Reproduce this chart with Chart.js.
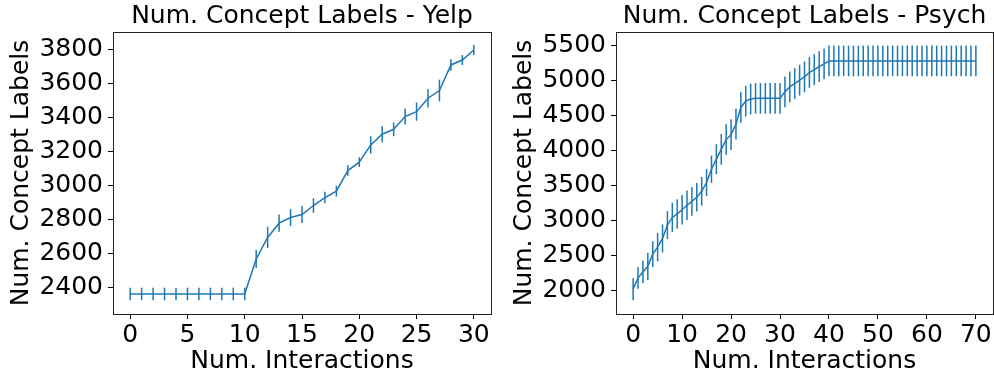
<!DOCTYPE html>
<html>
<head>
<meta charset="utf-8">
<script src="https://cdn.jsdelivr.net/npm/chart.js@4"></script>
<style>
  body { margin:0; background:#fff; }
  #wrap { position:relative; width:994px; height:379px; }
  .panel { position:absolute; top:0; }
</style>
</head>
<body>
<div id="wrap">
  <div class="panel" style="left:0"><canvas id="yelpChart" width="497" height="379"></canvas></div>
  <div class="panel" style="left:497px"><canvas id="psychChart" width="497" height="379"></canvas></div>
</div>
<script>
// Yelp: 0..30 interactions
const yelpX = [0,1,2,3,4,5,6,7,8,9,10,11,12,13,14,15,16,17,18,19,20,21,22,23,24,25,26,27,28,29,30];
const yelpMean = [2359,2359,2359,2359,2359,2359,2359,2359,2359,2359,2359,
  2565,2692,2776,2809,2827,2880,2927,2965,3086,3135,3237,3300,3329,3404,3433,3512,3557,3708,3737,3796];
const yelpErr = [37,37,37,37,37,37,37,37,37,37,37,
  53,63,51,50,50,43,34,32,31,28,51,47,41,47,54,54,64,34,29,29];
const yelpXTicks = [0,5,10,15,20,25,30];
const yelpYTicks = [2400,2600,2800,3000,3200,3400,3600,3800];

// Psych: 0..70 interactions
const psychX = [0,1,2,3,4,5,6,7,8,9,10,11,12,13,14,15,16,17,18,19,20,
  21,22,23,24,25,26,27,28,29,30,31,32,33,34,35,36,37,38,39,40,
  41,42,43,44,45,46,47,48,49,50,51,52,53,54,55,56,57,58,59,60,
  61,62,63,64,65,66,67,68,69,70];
const psychMean = [2020,2180,2265,2345,2520,2620,2745,2935,3045,3095,3155,
  3220,3275,3335,3420,3545,3735,3880,4020,4160,4230,
  4380,4620,4710,4740,4750,4750,4750,4750,4750,4750,
  4843,4914,4962,5010,5057,5120,5160,5205,5245,5286,
  5286,5286,5286,5286,5286,5286,5286,5286,5286,5286,
  5286,5286,5286,5286,5286,5286,5286,5286,5286,5286,
  5286,5286,5286,5286,5286,5286,5286,5286,5286,5286];
const psychErr = [160,155,160,195,185,205,200,200,210,210,210,
  210,205,205,205,195,195,215,220,220,220,
  220,220,220,220,219,219,219,219,219,219,
  220,220,220,220,220,220,220,220,220,219,
  219,219,219,219,219,219,219,219,219,219,
  219,219,219,219,219,219,219,219,219,219,
  219,219,219,219,219,219,219,219,219,219];
const psychXTicks = [0,10,20,30,40,50,60,70];
const psychYTicks = [2000,2500,3000,3500,4000,4500,5000,5500];

const BLUE = "#1f77b4";
const FONT = { family: "'DejaVu Sans', sans-serif", size: 25, weight: "normal" };

// error bars + box around the plot area
const errorBars = {
  id: "errorBars",
  beforeDatasetsDraw(chart, args, opts) {
    const {ctx, scales:{x, y}} = chart;
    ctx.save();
    ctx.strokeStyle = BLUE;
    ctx.lineWidth = 1.5;
    opts.xs.forEach((v, i) => {
      const px = x.getPixelForValue(v);
      ctx.beginPath();
      ctx.moveTo(px, y.getPixelForValue(opts.mean[i] - opts.err[i]));
      ctx.lineTo(px, y.getPixelForValue(opts.mean[i] + opts.err[i]));
      ctx.stroke();
    });
    ctx.restore();
  },
  afterDraw(chart) {
    const {ctx, chartArea:a} = chart;
    ctx.save();
    ctx.strokeStyle = "#222";
    ctx.lineWidth = 1;
    ctx.strokeRect(Math.round(a.left)+0.5, Math.round(a.top)+0.5,
      Math.round(a.right-a.left), Math.round(a.bottom-a.top));
    ctx.restore();
  }
};

function makeChart(id, title, xs, mean, err, xTicks, yTicks, xr, yr, yWidth, yTitlePad, padRight){
  return new Chart(document.getElementById(id), {
    type: "line",
    data: {
      datasets: [{
        data: xs.map((v,i)=>({x:v, y:mean[i]})),
        borderColor: BLUE,
        borderWidth: 1.5,
        pointRadius: 0,
        tension: 0
      }]
    },
    options: {
      responsive: false,
      animation: false,
      layout: { padding: { left:0, right:padRight, top:0, bottom:0 } },
      plugins: {
        legend: { display:false },
        tooltip: { enabled:false },
        title: { display:true, text:title, font:FONT, color:"#000",
                 padding:{top:1,bottom:1}, fullSize:false },
        errorBars: { xs, mean, err }
      },
      scales: {
        x: {
          type: "linear", min: xr[0], max: xr[1],
          afterBuildTicks: s => { s.ticks = xTicks.map(v=>({value:v})); },
          afterFit: s => { s.height = 65; },
          border: { display:false },
          grid: { drawOnChartArea:false, tickLength:5, tickColor:"#000", tickWidth:1 },
          ticks: { font:FONT, color:"#000", padding:1, maxRotation:0, autoSkip:false,
                   callback: v => String(v) },
          title: { display:true, text:"Num. Interactions", font:FONT, color:"#000",
                   padding:{top:0,bottom:3} }
        },
        y: {
          min: yr[0], max: yr[1],
          afterBuildTicks: s => { s.ticks = yTicks.map(v=>({value:v})); },
          afterFit: s => { s.width = yWidth; },
          border: { display:false },
          grid: { drawOnChartArea:false, tickLength:5, tickColor:"#000", tickWidth:1 },
          ticks: { font:FONT, color:"#000", padding:5, autoSkip:false,
                   callback: v => String(v) },
          title: { display:true, text:"Num. Concept Labels", font:FONT, color:"#000",
                   padding:{top:yTitlePad,bottom:0} }
        }
      }
    },
    plugins: [errorBars]
  });
}

makeChart("yelpChart", "Num. Concept Labels - Yelp", yelpX, yelpMean, yelpErr,
  yelpXTicks, yelpYTicks, [-1.5, 31.5], [2241, 3902], 113, 6.5, 6);
makeChart("psychChart", "Num. Concept Labels - Psych", psychX, psychMean, psychErr,
  psychXTicks, psychYTicks, [-3.5, 73.5], [1663, 5700], 119, 12.4, 1);
</script>
</body>
</html>
